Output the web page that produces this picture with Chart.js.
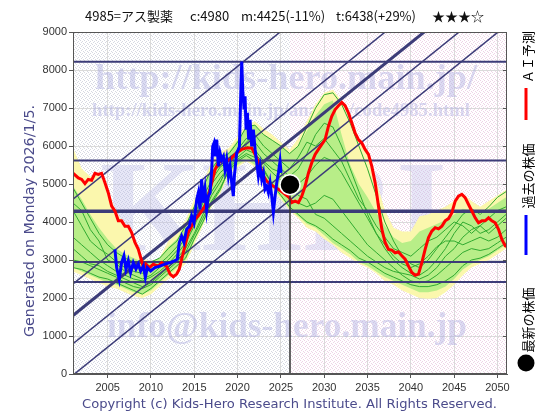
<!DOCTYPE html>
<html>
<head>
<meta charset="utf-8">
<script src="https://cdn.jsdelivr.net/npm/chart.js@4.4.0/dist/chart.umd.min.js"></script>
<style>
    html, body { margin: 0; padding: 0; background: #fff; }
    #grafico { display: block; }
</style>
</head>
<body>
<canvas id="grafico" width="560" height="420"></canvas>
<script>
// eixos
const xTicks = [2005, 2010, 2015, 2020, 2025, 2030, 2035, 2040, 2045, 2050];
const yTicks = [0, 1000, 2000, 3000, 4000, 5000, 6000, 7000, 8000, 9000];
const anoAtual = 2026.05;
const precoAtual = 4980;

// AI予測 (linha vermelha)
const anosIA = [2001.03, 2001.61, 2002.00, 2002.38, 2002.76, 2003.15, 2003.53, 2003.92, 2004.30, 2004.69,
    2005.07, 2005.46, 2005.84, 2006.23, 2006.61, 2007.00, 2007.38, 2007.77, 2008.15, 2008.54,
    2008.92, 2009.19, 2009.42, 2009.81, 2010.27, 2010.85, 2011.23, 2011.81, 2012.20, 2012.58,
    2012.97, 2013.27, 2013.54, 2013.93, 2014.31, 2014.70, 2015.08, 2015.47, 2015.85, 2016.24,
    2016.62, 2017.01, 2017.40, 2017.78, 2018.36, 2018.74, 2019.13, 2019.51, 2019.90, 2020.47,
    2021.05, 2021.63, 2022.21, 2022.59, 2022.98, 2023.36, 2023.75, 2024.13, 2024.71, 2025.29,
    2025.98, 2026.25, 2026.64, 2027.02, 2027.41, 2027.79, 2028.18, 2028.56, 2028.95, 2029.33,
    2029.72, 2030.10, 2030.49, 2030.87, 2031.26, 2031.64, 2032.03, 2032.41, 2032.80, 2033.18,
    2033.57, 2033.95, 2034.34, 2034.72, 2035.11, 2035.49, 2035.88, 2036.26, 2036.65, 2037.03,
    2037.42, 2037.80, 2038.19, 2038.57, 2038.96, 2039.34, 2039.73, 2040.11, 2040.50, 2040.88,
    2041.27, 2041.65, 2042.04, 2042.42, 2042.81, 2043.19, 2043.58, 2043.96, 2044.35, 2044.73,
    2045.12, 2045.50, 2045.89, 2046.27, 2046.66, 2047.04, 2047.43, 2047.81, 2048.20, 2048.58,
    2048.97, 2049.35, 2049.74, 2050.12, 2050.51, 2050.89, 2051.10];
const valoresIA = [5280, 5160, 5120, 5010, 5120, 5100, 5280, 5250, 5280, 5030,
    4770, 4420, 4290, 4030, 4030, 3890, 3890, 3720, 3460, 3280,
    2980, 2760, 2890, 2800, 2890, 2840, 2930, 2830, 2630, 2560,
    2630, 2760, 3020, 3370, 3720, 3890, 4070, 4160, 4290, 4420,
    4680, 5030, 5380, 5560, 5640, 5600, 5640, 5730, 5820, 5910,
    5950, 5950, 5690, 5470, 5210, 5080, 4990, 4940, 4860, 4770,
    4640, 4510, 4550, 4510, 4680, 4940, 5290, 5560, 5780, 5910,
    6040, 6170, 6520, 6780, 6960, 7060, 7150, 7060, 6870, 6610,
    6340, 6170, 6080, 5910, 5780, 5470, 5030, 4420, 3810, 3460,
    3280, 3260, 3190, 3210, 3110, 3020, 2840, 2670, 2600, 2630,
    2930, 3280, 3590, 3760, 3850, 3820, 3890, 4030, 4090, 4240,
    4550, 4680, 4730, 4640, 4460, 4290, 4110, 3980, 4030, 4030,
    4110, 4030, 3980, 3810, 3540, 3370, 3350];

// 過去の株価 (linha azul)
const anosPassado = [2005.84, 2006.04, 2006.34, 2006.61, 2006.88, 2007.11, 2007.38, 2007.65, 2007.96, 2008.27,
    2008.54, 2008.81, 2009.12, 2009.35, 2009.58, 2009.96, 2010.46, 2011.04, 2011.62, 2012.20,
    2012.77, 2013.04, 2013.27, 2013.54, 2013.81, 2014.12, 2014.43, 2014.70, 2014.97, 2015.28,
    2015.47, 2015.66, 2015.85, 2016.05, 2016.24, 2016.43, 2016.62, 2016.82, 2017.01, 2017.13,
    2017.28, 2017.43, 2017.59, 2017.78, 2017.97, 2018.16, 2018.36, 2018.55, 2018.74, 2018.94,
    2019.13, 2019.32, 2019.51, 2019.63, 2019.78, 2019.90, 2020.09, 2020.21, 2020.36, 2020.48,
    2020.59, 2020.75, 2020.86, 2020.98, 2021.13, 2021.28, 2021.44, 2021.63, 2021.82, 2022.02,
    2022.21, 2022.40, 2022.59, 2022.79, 2022.98, 2023.17, 2023.36, 2023.56, 2023.75, 2023.94,
    2024.13, 2024.33, 2024.52, 2024.71, 2024.90, 2025.02];
const valoresPassado = [3280, 2800, 2490, 2930, 3110, 2760, 2980, 2670, 2930, 2760,
    2890, 2710, 2840, 2540, 2800, 2710, 2800, 2840, 2890, 2930,
    2980, 3020, 3460, 3630, 3460, 3810, 3890, 4160, 3980, 4590,
    4770, 4330, 5120, 4510, 4860, 4330, 4680, 4770, 5380, 5990,
    6080, 5730, 6170, 5470, 5820, 5640, 5730, 5380, 5640, 5210,
    5470, 5030, 4680, 5210, 5560, 5820, 5910, 5990, 7310, 8220,
    7480, 6960, 7310, 6430, 6870, 6170, 6690, 5990, 6430, 5910,
    5560, 5210, 5470, 5120, 5290, 4860, 4940, 4770, 5030, 4680,
    4260, 4680, 5030, 5290, 5600, 5290];

// faixas de padroes passados (amarelo e verde), um valor por ano
const anos = [2001, 2002, 2003, 2004, 2005, 2006, 2007, 2008, 2009, 2010,
    2011, 2012, 2013, 2014, 2015, 2016, 2017, 2018, 2019, 2020,
    2021, 2022, 2023, 2024, 2025, 2026, 2027, 2028, 2029, 2030,
    2031, 2032, 2033, 2034, 2035, 2036, 2037, 2038, 2039, 2040,
    2041, 2042, 2043, 2044, 2045, 2046, 2047, 2048, 2049, 2050, 2051];
const amareloAlto = [5950, 5400, 5200, 5250, 4850, 4250, 3950, 3550, 3050, 2950,
    3050, 3500, 3700, 4050, 4600, 5000, 5600, 5850, 5950, 6250,
    6550, 6650, 6450, 6300, 6100, 5900, 6200, 6650, 7100, 7400,
    7480, 7200, 6800, 6200, 5800, 5100, 4300, 3850, 3750, 3750,
    4150, 4200, 4300, 4400, 4550, 4750, 4550, 4400, 4550, 4700, 4850];
const amareloBaixo = [2700, 2600, 2500, 2400, 2300, 2250, 2150, 2050, 2000, 2100,
    2300, 2500, 2700, 2900, 3400, 3900, 4400, 4750, 5250, 5450,
    5600, 5450, 5200, 4850, 4600, 4300, 4100, 3850, 3750, 3550,
    3400, 3200, 3050, 2900, 2800, 2650, 2450, 2350, 2200, 2100,
    2000, 1980, 2000, 2150, 2350, 2600, 2800, 2900, 3000, 3150, 3300];
const verdeAlto = [4950, 4600, 4200, 3850, 3550, 3300, 3150, 3050, 2950, 2950,
    3050, 3350, 3550, 3950, 4450, 4900, 5450, 5750, 5850, 6150,
    6500, 6550, 6300, 6150, 6000, 5800, 6000, 6400, 6800, 7100,
    7200, 6300, 5500, 5000, 4650, 4250, 3900, 3600, 3450, 3500,
    3750, 3850, 3950, 4050, 4200, 4350, 4300, 4200, 4350, 4500, 4650];
const verdeBaixo = [2800, 2700, 2600, 2500, 2400, 2350, 2250, 2150, 2100, 2200,
    2400, 2600, 2800, 3000, 3500, 3950, 4450, 4800, 5300, 5500,
    5650, 5500, 5250, 4900, 4650, 4350, 4150, 3950, 3850, 3650,
    3450, 3300, 3150, 2950, 2850, 2700, 2550, 2450, 2350, 2250,
    2150, 2150, 2200, 2300, 2500, 2750, 2900, 3000, 3100, 3250, 3400];
const trilha1 = [4900, 4500, 4100, 3700, 3400, 3200, 3050, 2950, 2900, 2950,
    3050, 3300, 3500, 3900, 4400, 4900, 5400, 5700, 5800, 6100,
    6500, 6550, 6300, 6150, 6000, 5800, 6000, 6500, 7000, 7350,
    7400, 7100, 6600, 6000, 5400, 4700, 4000, 3500, 3100, 2900,
    2800, 3000, 3300, 3600, 3900, 4200, 4350, 4200, 4400, 4650, 4800];
const trilha2 = [4300, 3900, 3500, 3300, 3150, 2950, 2800, 2700, 2650, 2750,
    2900, 3100, 3350, 3700, 4200, 4650, 5100, 5450, 5600, 5900,
    6200, 6100, 5800, 5600, 5400, 5200, 5400, 5800, 6300, 6600,
    6500, 6000, 5400, 4800, 4200, 3700, 3300, 3000, 2800, 2650,
    2600, 2750, 3000, 3300, 3700, 4000, 3900, 3700, 3800, 4000, 4200];
const trilha3 = [3600, 3400, 3200, 3000, 2850, 2700, 2600, 2500, 2450, 2550,
    2700, 2900, 3150, 3450, 3900, 4400, 4800, 5150, 5450, 5700,
    5900, 5800, 5550, 5300, 5100, 4900, 5000, 5200, 5500, 5700,
    5600, 5300, 4900, 4500, 4100, 3700, 3400, 3100, 2900, 2800,
    2900, 3100, 3350, 3500, 3500, 3400, 3500, 3600, 3500, 3600, 3800];
const trilha4 = [3000, 2950, 2850, 2750, 2650, 2550, 2400, 2300, 2250, 2350,
    2550, 2750, 2950, 3200, 3650, 4100, 4550, 4900, 5350, 5600,
    5750, 5600, 5350, 5000, 4800, 4600, 4500, 4400, 4500, 4700,
    4600, 4300, 4000, 3700, 3400, 3200, 3000, 2800, 2600, 2450,
    2400, 2450, 2600, 2800, 3000, 3200, 3300, 3250, 3300, 3450, 3600];
const trilha5 = [2800, 2750, 2650, 2550, 2500, 2400, 2300, 2200, 2100, 2250,
    2450, 2650, 2850, 3050, 3550, 4000, 4500, 4850, 5400, 5650,
    5800, 5700, 5400, 5000, 4700, 4400, 4200, 4000, 3900, 3750,
    3550, 3400, 3250, 3050, 2950, 2800, 2650, 2550, 2450, 2350,
    2300, 2300, 2350, 2450, 2600, 2850, 3000, 3050, 3150, 3300, 3450];
const trilha6 = [4500, 4300, 3800, 3500, 3000, 2900, 2700, 2600, 2500, 2600,
    2800, 3000, 3250, 3600, 4000, 4500, 5000, 5300, 5500, 5800,
    6100, 6300, 6000, 5800, 5600, 5400, 5700, 6100, 6000, 6200,
    5900, 5600, 5100, 4600, 4300, 3900, 3600, 3300, 3200, 3100,
    3300, 3500, 3600, 3800, 4000, 3900, 3700, 3900, 4100, 4300, 4400];
const trilha7 = [3300, 3100, 2900, 2850, 2700, 2600, 2500, 2400, 2300, 2400,
    2600, 2800, 3050, 3300, 3700, 4200, 4700, 5050, 5500, 5800,
    6000, 5900, 5600, 5400, 5300, 5000, 4700, 4600, 4200, 4100,
    3900, 3700, 3500, 3300, 3100, 2950, 2800, 2700, 2650, 2600,
    2500, 2600, 2800, 3100, 3300, 3600, 3800, 3900, 3700, 3900, 4100];

// linhas de suporte / resistencia
const horizontais = [8220, 5620, 4280, 2950, 2420];
const larguraHorizontais = [2, 2, 3.5, 2, 2];
// linhas de tendencia: valor em 2001 e em 2051
const tendenciaInicio = [4600, 2370, 1540, 800, -30];
const tendenciaFim = [13800, 11570, 10740, 10000, 9170];
const larguraTendencia = [1.5, 1.5, 3, 1.5, 1.5];

function pontos(xs, ys) {
    return xs.map((v, i) => ({ x: v, y: ys[i] }));
}

function padrao(ctx, cor) {
    var c = document.createElement('canvas');
    c.width = 4; c.height = 4;
    var g = c.getContext('2d');
    g.fillStyle = '#ffffff';
    g.fillRect(0, 0, 4, 4);
    g.fillStyle = cor;
    g.fillRect(0, 0, 1, 1);
    g.fillRect(2, 1, 1, 1);
    g.fillRect(1, 2, 1, 1);
    g.fillRect(3, 3, 1, 1);
    return ctx.createPattern(c, 'repeat');
}

function texto(ctx, str, font, cor, x, y, largura) {
    ctx.save();
    ctx.font = font;
    ctx.fillStyle = cor;
    ctx.textBaseline = 'alphabetic';
    ctx.translate(x, y);
    if (largura) {
        var w = ctx.measureText(str).width;
        ctx.scale(largura / w, 1);
    }
    ctx.fillText(str, 0, 0);
    ctx.restore();
}

function textoGirado(ctx, str, font, cor, cx, cy, largura) {
    ctx.save();
    ctx.font = font;
    ctx.fillStyle = cor;
    ctx.textAlign = 'center';
    ctx.textBaseline = 'middle';
    ctx.translate(cx, cy);
    ctx.rotate(-Math.PI / 2);
    if (largura) {
        var w = ctx.measureText(str).width;
        ctx.scale(largura / w, 1);
    }
    ctx.fillText(str, 0, 0);
    ctx.restore();
}

const desenho = {
    id: 'desenho',
    beforeDraw(chart) {
        const { ctx, chartArea: a, scales } = chart;
        const corte = scales.x.getPixelForValue(anoAtual);
        ctx.save();
        ctx.fillStyle = '#ffffff';
        ctx.fillRect(0, 0, chart.width, chart.height);
        ctx.fillStyle = padrao(ctx, '#d6d8e2');
        ctx.fillRect(a.left, a.top, corte - a.left, a.bottom - a.top);
        ctx.fillStyle = padrao(ctx, '#eed4e6');
        ctx.fillRect(corte, a.top, a.right - corte, a.bottom - a.top);
        ctx.restore();
    },
    beforeDatasetsDraw(chart) {
        const ctx = chart.ctx;
        const serif = '"Liberation Serif", "DejaVu Serif", serif';
        texto(ctx, 'KHRI', 'bold 130px ' + serif, 'rgba(185,185,232,0.35)', 100, 250, 347);
        texto(ctx, 'http://kids-hero.main.jp/', 'bold 36px ' + serif, 'rgba(170,170,225,0.42)', 95, 89, 382);
        texto(ctx, 'http://kids-hero.main.jp/analyze/code4985.html', 'bold 18px ' + serif, 'rgba(170,170,225,0.42)', 92, 116, 378);
        texto(ctx, 'info@kids-hero.main.jp', 'bold 36px ' + serif, 'rgba(170,170,225,0.42)', 107, 337, 360);
    },
    afterDraw(chart) {
        const { ctx, chartArea: a, scales } = chart;
        ctx.save();
        // moldura
        ctx.strokeStyle = '#555';
        ctx.lineWidth = 1;
        ctx.strokeRect(a.left + 0.5, a.top + 0.5, a.right - a.left - 1, a.bottom - a.top - 1);
        yTicks.forEach(function (v) {
            var py = Math.round(scales.y.getPixelForValue(v)) + 0.5;
            ctx.beginPath();
            ctx.moveTo(a.right - 4, py);
            ctx.lineTo(a.right, py);
            ctx.stroke();
        });

        // titulo
        var fonteTitulo = '13px "Noto Sans CJK JP", sans-serif';
        ctx.fillStyle = '#111';
        ctx.font = fonteTitulo;
        ctx.textBaseline = 'middle';
        ctx.fillText('4985=アス製薬', 85, 16);
        ctx.fillText('c:4980', 190, 16);
        ctx.fillText('m:4425(-11%)', 241, 16);
        ctx.fillText('t:6438(+29%)', 336, 16);
        ctx.fillText('★★★☆', 432, 16);

        // texto lateral e rodape
        textoGirado(ctx, 'Generated on Monday 2026/1/5.', '14px "DejaVu Sans", sans-serif', '#4b4b8b', 30, 221, 232);
        texto(ctx, 'Copyright (c) Kids-Hero Research Institute. All Rights Reserved.', '13px "DejaVu Sans", sans-serif', '#4b4b8b', 82, 408, 415);

        // legenda da direita
        ctx.lineCap = 'butt';
        ctx.lineWidth = 3;
        ctx.strokeStyle = '#ff0000';
        ctx.beginPath(); ctx.moveTo(526, 120); ctx.lineTo(526, 88); ctx.stroke();
        ctx.strokeStyle = '#0000ff';
        ctx.beginPath(); ctx.moveTo(526, 255); ctx.lineTo(526, 215); ctx.stroke();
        ctx.fillStyle = '#000';
        ctx.beginPath(); ctx.arc(526, 363, 8.5, 0, Math.PI * 2); ctx.fill();
        var fonteLegenda = '13px "Noto Sans CJK JP", sans-serif';
        textoGirado(ctx, 'ＡＩ予測', fonteLegenda, '#000', 528, 57);
        textoGirado(ctx, '過去の株価', fonteLegenda, '#000', 528, 176);
        textoGirado(ctx, '最新の株価', fonteLegenda, '#000', 528, 320);
        ctx.restore();
    }
};

var datasets = [];
datasets.push({ data: pontos(anos, amareloAlto), borderColor: 'transparent', borderWidth: 1, pointRadius: 0, fill: '+1', backgroundColor: '#fbf7ad', order: 20 });
datasets.push({ data: pontos(anos, amareloBaixo), borderColor: 'transparent', borderWidth: 1, pointRadius: 0, fill: false, order: 20 });
datasets.push({ data: pontos(anos, verdeAlto), borderColor: 'transparent', borderWidth: 1, pointRadius: 0, fill: '+1', backgroundColor: '#b8ee88', order: 19 });
datasets.push({ data: pontos(anos, verdeBaixo), borderColor: 'transparent', borderWidth: 1, pointRadius: 0, fill: false, order: 19 });
[trilha1, trilha2, trilha3, trilha4, trilha5, trilha6, trilha7].forEach(function (t) {
    datasets.push({ data: pontos(anos, t), borderColor: '#30aa30', borderWidth: 1, pointRadius: 0, fill: false, order: 15 });
});
horizontais.forEach(function (v, i) {
    datasets.push({ data: [{ x: 2001, y: v }, { x: 2051.1, y: v }], borderColor: '#3c3c78', borderWidth: larguraHorizontais[i], pointRadius: 0, fill: false, order: 12 });
});
tendenciaInicio.forEach(function (v, i) {
    datasets.push({ data: [{ x: 2001, y: v }, { x: 2051, y: tendenciaFim[i] }], borderColor: '#3c3c78', borderWidth: larguraTendencia[i], pointRadius: 0, fill: false, order: 11 });
});
datasets.push({ data: pontos(anosIA, valoresIA), borderColor: '#ff0000', borderWidth: 3, pointRadius: 0, fill: false, order: 5 });
datasets.push({ data: pontos(anosPassado, valoresPassado), borderColor: '#0000ff', borderWidth: 3, pointRadius: 0, fill: false, order: 4 });
datasets.push({ data: [{ x: anoAtual, y: precoAtual }, { x: anoAtual, y: 0 }], borderColor: '#333', borderWidth: 1.5, pointRadius: 0, fill: false, order: 3 });
datasets.push({ data: [{ x: anoAtual, y: precoAtual }], showLine: false, pointRadius: 10, backgroundColor: '#000', borderColor: '#fff', borderWidth: 1.5, order: 1 });

const fonteEixo = { family: '"Liberation Sans", Arial, sans-serif', size: 11 };

new Chart(document.getElementById('grafico'), {
    type: 'line',
    data: { datasets: datasets },
    options: {
        responsive: false,
        animation: false,
        events: [],
        layout: { padding: { top: 32, right: 53, left: 0, bottom: 0 } },
        plugins: { legend: { display: false }, tooltip: { enabled: false } },
        scales: {
            x: {
                type: 'linear',
                min: 2001,
                max: 2051.1,
                afterBuildTicks: function (s) { s.ticks = xTicks.map(v => ({ value: v })); },
                afterFit: function (s) { s.height = 46; },
                ticks: { color: '#333', font: fonteEixo, padding: 3, maxRotation: 0, autoSkip: false, callback: v => String(v) },
                grid: { color: '#dadada', tickLength: 4, tickColor: '#555' },
                border: { color: '#555' }
            },
            y: {
                min: 0,
                max: 9000,
                afterBuildTicks: function (s) { s.ticks = yTicks.map(v => ({ value: v })); },
                afterFit: function (s) { s.width = 73; },
                ticks: { color: '#333', font: fonteEixo, padding: 2, callback: v => String(v) },
                grid: { color: '#dadada', tickLength: 4, tickColor: '#555' },
                border: { color: '#555' }
            }
        }
    },
    plugins: [desenho]
});
</script>
</body>
</html>
